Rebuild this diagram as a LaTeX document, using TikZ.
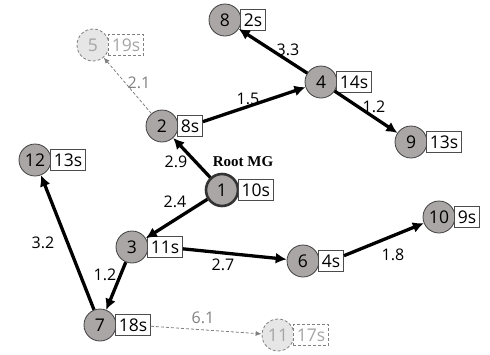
\documentclass[tikz,border=0pt]{standalone}
\usepackage{fontspec}
\setmainfont{Open Sans}
\newfontfamily\rootfont{Liberation Serif}
\usetikzlibrary{arrows.meta}
\definecolor{mgfill}{RGB}{170,166,165}
\definecolor{offfill}{RGB}{230,230,230}
\definecolor{offline}{RGB}{128,128,128}
\definecolor{offtext}{RGB}{165,165,165}

\begin{document}
\begin{tikzpicture}[x=1pt,y=-1pt]
\tikzstyle{every node}=[inner sep=0pt, font=\fontsize{17.5}{19}\selectfont]
\tikzstyle{mgnode}=[circle, draw=black!75, fill=mgfill, minimum size=32pt, line width=0.8pt]
\tikzstyle{offnode}=[circle, draw=offline, fill=offfill, text=offtext, dash pattern=on 3pt off 2pt, minimum size=32pt, line width=0.8pt]
\tikzstyle{tbox}=[draw=black!70, fill=white, anchor=west, minimum height=21pt, inner xsep=3.5pt, xshift=-1.5pt, line width=0.7pt]
\tikzstyle{offtbox}=[tbox, draw=offline, text=offtext, dash pattern=on 3pt off 2pt]
\tikzstyle{wlbl}=[font=\fontsize{16}{18}\selectfont]
\tikzstyle{offwlbl}=[wlbl, text=offline]
\tikzstyle{link}=[line width=3.3pt, -{Latex[length=11pt,width=11pt]}]
\tikzstyle{offlink}=[draw=offline, line width=0.8pt, dash pattern=on 3pt off 2pt, -{Latex[length=6pt,width=5pt]}]
\useasboundingbox (0,0) rectangle (490,354);
% circles
\draw (222,190) node (n1) [mgnode, line width=2.6pt, draw=black!80] {1};
\draw (162,126) node (n2) [mgnode] {2};
\draw (132,247) node (n3) [mgnode] {3};
\draw (321,82) node (n4) [mgnode] {4};
\draw (93,45) node (n5) [offnode] {5};
\draw (303,261) node (n6) [mgnode] {6};
\draw (100,325) node (n7) [mgnode] {7};
\draw (225,20) node (n8) [mgnode] {8};
\draw (411,142) node (n9) [mgnode] {9};
\draw (439,217) node (n10) [mgnode] {10};
\draw (278,335) node (n11) [offnode] {11};
\draw (35,160) node (n12) [mgnode] {12};
% times
\draw (n1.east) node (t1) [tbox] {10s};
\draw (n2.east) node (t2) [tbox] {8s};
\draw (n3.east) node (t3) [tbox] {11s};
\draw (n4.east) node (t4) [tbox] {14s};
\draw (n5.east) node (t5) [offtbox] {19s};
\draw (n6.east) node (t6) [tbox] {4s};
\draw (n7.east) node (t7) [tbox] {18s};
\draw (n8.east) node (t8) [tbox] {2s};
\draw (n9.east) node (t9) [tbox] {13s};
\draw (n10.east) node (t10) [tbox] {9s};
\draw (n11.east) node (t11) [offtbox] {17s};
\draw (n12.east) node (t12) [tbox] {13s};
\draw (243,162) node (root) [font=\rootfont\bfseries\fontsize{15}{17}\selectfont] {Root MG};
% links
\draw[link] (n1) -- (n2);
\draw[link] (t2) -- (n4);
\draw[link] (n4) -- (n8);
\draw[link] (n4) -- (n9);
\draw[offlink] (n2) -- (n5);
\draw[link] (n1) -- (n3);
\draw[link] (t3) -- (n6);
\draw[link] (t6) -- (n10);
\draw[link] (n3) -- (n7);
\draw[link] (n7) -- (n12);
\draw[offlink] (t7) -- (n11);
% weights
\draw (288,50) node (w48) [wlbl] {3.3};
\draw (248,99) node (w24) [wlbl] {1.5};
\draw (374,107) node (w49) [wlbl] {1.2};
\draw (139,83) node (w25) [offwlbl] {2.1};
\draw (176,162) node (w12) [wlbl] {2.9};
\draw (175,202) node (w13) [wlbl] {2.4};
\draw (43,243) node (w712) [wlbl] {3.2};
\draw (105,275) node (w37) [wlbl] {1.2};
\draw (223,265) node (w36) [wlbl] {2.7};
\draw (393,255) node (w610) [wlbl] {1.8};
\draw (203,318) node (w711) [offwlbl] {6.1};
\end{tikzpicture}
\end{document}
